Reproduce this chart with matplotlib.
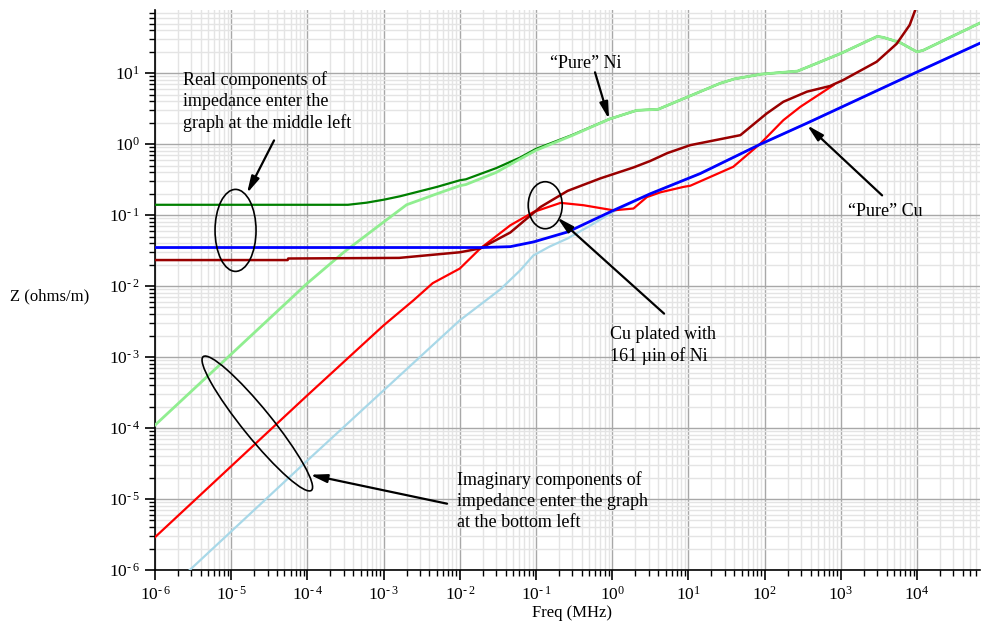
import numpy as np
import matplotlib
matplotlib.use("Agg")
import matplotlib.pyplot as plt
from matplotlib.patches import Ellipse
from matplotlib import transforms, ticker

plt.rcParams['font.family'] = ['Liberation Serif', 'DejaVu Serif']
plt.rcParams['mathtext.fontset'] = 'custom'
plt.rcParams['mathtext.rm'] = 'Liberation Serif'
plt.rcParams['mathtext.it'] = 'Liberation Serif:italic'
plt.rcParams['mathtext.bf'] = 'Liberation Serif:bold'

# ---- data (Freq in MHz, Z in ohms/m) ----
ni_real_f = [1e-6, 3.4e-4, 6e-4, 1e-3, 1.66e-3, 5e-3, 1e-2, 1.2e-2, 3e-2, 0.062, 0.1, 0.3, 0.91, 2.1, 4, 9.6,
             26, 40, 90, 270, 500, 1000, 3000, 3600, 6000, 9000, 1e4, 1.2e4, 6.7e4]
ni_real_z = [0.14, 0.14, 0.15, 0.165, 0.185, 0.25, 0.31, 0.32, 0.46, 0.65, 0.86, 1.35, 2.25, 3.0, 3.1, 4.6,
             7.2, 8.3, 9.7, 10.7, 14, 19, 33, 32, 27, 21.2, 20, 21, 51]

ni_imag_f = [1e-6, 1e-5, 1e-4, 3e-4, 1e-3, 2e-3, 5e-3, 1e-2, 1.2e-2, 3e-2, 0.062, 0.1, 0.3, 0.91, 2.1, 4, 9.6,
             26, 40, 90, 270, 500, 1000, 3000, 3600, 6000, 9000, 1e4, 1.2e4, 6.7e4]
ni_imag_z = [1.1e-4, 1.1e-3, 0.011, 0.03, 0.08, 0.14, 0.2, 0.26, 0.27, 0.4, 0.62, 0.82, 1.33, 2.25, 3.0, 3.1, 4.6,
             7.2, 8.3, 9.7, 10.7, 14, 19, 33, 32, 27, 21.2, 20, 21, 51]

cu_real_f = [1e-6, 0.02, 0.046, 0.093, 0.26, 1.04, 3.15, 14.3, 88, 360, 1e4, 6.7e4]
cu_real_z = [0.035, 0.035, 0.036, 0.042, 0.058, 0.117, 0.2, 0.386, 1.0, 1.98, 10.4, 26.5]

cu_imag_f = [1e-6, 1e-5, 1e-4, 1e-3, 1e-2, 0.034, 0.062, 0.092, 0.15, 0.26, 0.5, 1.04, 3.15, 14.3, 88, 360, 1e4, 6.7e4]
cu_imag_z = [3.5e-7, 3.5e-6, 3.5e-5, 3.4e-4, 3.3e-3, 0.009, 0.0167, 0.027, 0.036, 0.047, 0.07, 0.112, 0.2, 0.386, 1.0, 1.98, 10.4, 26.5]

plated_real_f = [1e-6, 5.5e-5, 5.6e-5, 1.6e-3, 1e-2, 0.0186, 0.046, 0.114, 0.26, 0.7, 1.9, 3.15, 5.3, 10.6,
                 48, 106, 176, 360, 720, 1070, 2950, 5400, 8000, 9800, 1.1e4]
plated_real_z = [0.0233, 0.0233, 0.0245, 0.025, 0.03, 0.034, 0.057, 0.13, 0.22, 0.33, 0.47, 0.58, 0.75, 0.97,
                 1.34, 2.7, 3.96, 5.5, 6.6, 8.0, 14.5, 26, 47.8, 86, 120]

plated_imag_f = [1e-6, 1e-4, 1e-3, 2.46e-3, 4.4e-3, 1e-2, 0.0186, 0.046, 0.093, 0.21, 0.42, 1.04, 1.9, 2.85,
                 4.3, 8.6, 10.6, 38.7, 88, 176, 294, 800]
plated_imag_z = [2.9e-6, 2.9e-4, 2.8e-3, 6.3e-3, 0.011, 0.0177, 0.034, 0.072, 0.111, 0.149, 0.138, 0.117, 0.124,
                 0.18, 0.21, 0.25, 0.26, 0.48, 1.02, 2.18, 3.36, 6.8]

x_ticks = [1e-6, 1e-5, 1e-4, 1e-3, 1e-2, 1e-1, 1e0, 1e1, 1e2, 1e3, 1e4]
y_ticks = [1e-6, 1e-5, 1e-4, 1e-3, 1e-2, 1e-1, 1e0, 1e1]

fig = plt.figure(figsize=(9.81, 6.24), dpi=100)
ax = fig.add_axes([0.158, 0.0865, 0.841, 0.897])
ax.set_xscale('log')
ax.set_yscale('log')
ax.set_xlim(1e-6, 6.7e4)
ax.set_ylim(1e-6, 77)

ax.plot(cu_imag_f, cu_imag_z, color='#a8d8e8', lw=1.6, zorder=3)
ax.plot(cu_real_f, cu_real_z, color='#0000ff', lw=2.0, zorder=4)
ax.plot(ni_real_f, ni_real_z, color='#008000', lw=1.6, zorder=3)
ax.plot(ni_imag_f, ni_imag_z, color='#90ee90', lw=2.0, zorder=3.5)
ax.plot(plated_imag_f, plated_imag_z, color='#ff0000', lw=1.6, zorder=3.6)
ax.plot(plated_real_f, plated_real_z, color='#990000', lw=1.8, zorder=3.7)


def fmt(v, pos):
    e = int(round(np.log10(v)))
    if e < 0:
        return r'$\mathregular{10^{\text{-}\,%d}}$' % (-e)
    return r'$\mathregular{10^{%d}}$' % e


ax.set_xticks(x_ticks)
ax.set_yticks(y_ticks)
ax.xaxis.set_major_formatter(ticker.FuncFormatter(fmt))
ax.yaxis.set_major_formatter(ticker.FuncFormatter(fmt))
ax.xaxis.set_minor_locator(ticker.LogLocator(base=10, subs=np.arange(2, 10), numticks=50))
ax.yaxis.set_minor_locator(ticker.LogLocator(base=10, subs=np.arange(2, 10), numticks=50))
ax.xaxis.set_minor_formatter(ticker.NullFormatter())
ax.yaxis.set_minor_formatter(ticker.NullFormatter())
ax.grid(True, which='major', color='#a8a8a8', lw=1.0, zorder=0)
ax.grid(True, which='minor', color='#e4e4e4', lw=1.0, zorder=0)
ax.set_axisbelow(True)
ax.tick_params(which='major', direction='out', length=7, width=1.2, labelsize=12.5, colors='black')
ax.tick_params(axis='x', which='major', pad=4)
ax.tick_params(axis='y', which='major', pad=4)
ax.tick_params(which='minor', direction='out', length=4, width=1.0)
for s in ['top', 'right']:
    ax.spines[s].set_visible(False)
for s in ['left', 'bottom']:
    ax.spines[s].set_linewidth(1.2)

fig.text(572/981, 1-613/624, 'Freq (MHz)', fontsize=12, ha='center', va='center')
fig.text(10/981, 1-296/624, 'Z (ohms/m)', fontsize=12, ha='left', va='center')


def ell(fc, zc, w_px, h_px, ang):
    tr = fig.dpi_scale_trans + transforms.ScaledTranslation(fc, zc, ax.transData)
    e = Ellipse((0, 0), w_px/100, h_px/100, angle=ang, transform=tr, fill=False,
                edgecolor='black', lw=1.2, zorder=6, clip_on=False)
    ax.add_patch(e)


ell(1.14e-5, 0.061, 41, 82, 0)
ell(2.2e-5, 1.16e-4, 172, 29, -51)
ell(0.132, 0.138, 34, 47, 0)

arrow = dict(arrowstyle='-|>,head_length=1.0,head_width=0.25', color='black', lw=1.6, shrinkA=0, shrinkB=0)
ax.annotate('', xy=(1.61e-5, 0.203), xytext=(3.65e-5, 1.13), arrowprops=arrow, zorder=7)
ax.annotate('', xy=(0.908, 2.24), xytext=(0.594, 10.3), arrowprops=arrow, zorder=7)
ax.annotate('', xy=(360, 1.85), xytext=(3475, 0.19), arrowprops=arrow, zorder=7)
ax.annotate('', xy=(0.189, 0.093), xytext=(4.79, 4.1e-3), arrowprops=arrow, zorder=7)
ax.annotate('', xy=(1.08e-4, 2.2e-5), xytext=(6.8e-3, 8.6e-6), arrowprops=arrow, zorder=7)

fs = 13
fig.text(183/981, 1-71/624, 'Real components of\nimpedance enter the\ngraph at the middle left',
         fontsize=fs, ha='left', va='top', linespacing=1.3)
fig.text(586/981, 1-63/624, '\u201cPure\u201d Ni', fontsize=fs, ha='center', va='center')
fig.text(885/981, 1-212/624, '\u201cPure\u201d Cu', fontsize=fs, ha='center', va='center')
fig.text(610/981, 1-326/624, 'Cu plated with\n161 \u00b5in of Ni', fontsize=fs, ha='left', va='top', linespacing=1.3)
fig.text(457/981, 1-471/624, 'Imaginary components of\nimpedance enter the graph\nat the bottom left',
         fontsize=fs, ha='left', va='top', linespacing=1.3)

fig.savefig('out.png', dpi=100)
